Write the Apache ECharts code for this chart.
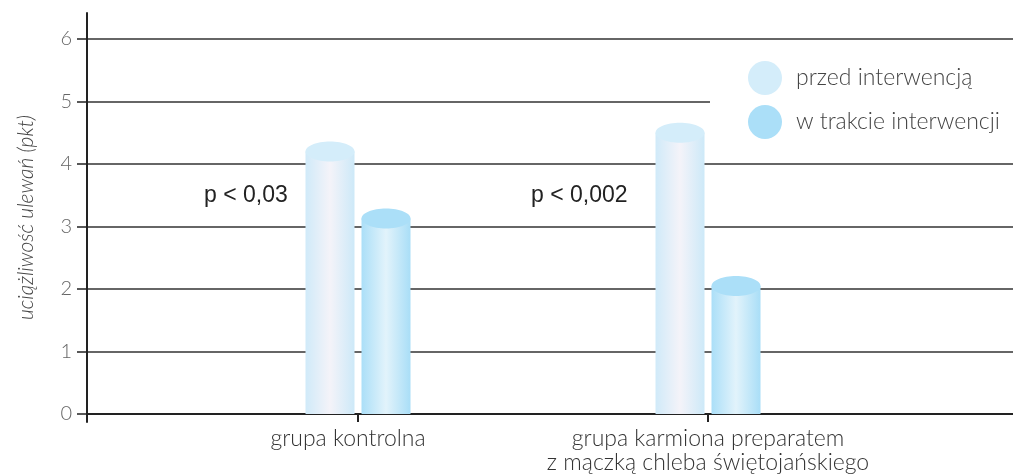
<!DOCTYPE html>
<html><head><meta charset="utf-8">
<script src="https://cdn.jsdelivr.net/npm/echarts@6/dist/echarts.min.js"></script>
<style>html,body{margin:0;padding:0;background:#fff}#c{width:1013px;height:475px}</style>
</head><body><div id="c"></div>
<script>
var categories = ['grupa kontrolna', 'grupa karmiona preparatem\nz mączką chleba świętojańskiego'];
var seriesNames = ['przed interwencją', 'w trakcie interwencji'];
var beforeVals = [4.2, 4.5];
var duringVals = [3.13, 2.05];
var yTicks = [0, 1, 2, 3, 4, 5, 6];
var pLabels = ['p < 0,03', 'p < 0,002'];

var chart = echarts.init(document.getElementById('c'));
var FONT = 'Lato';

function toData(vals){ return vals.map(function(v,i){ return [i+1, v]; }); }

function makeRender(side, stops, topColor){
  return function(params, api){
    var x = api.value(0), y = api.value(1);
    var top = api.coord([x, y]);
    var base = api.coord([x, 0]);
    var w = 49, gap = 3.5;
    var left = side < 0 ? top[0] - gap - w : top[0] + gap;
    return {type:'group', children:[
      {type:'rect', shape:{x:left, y:top[1], width:w, height:base[1]-top[1]},
       style:{fill:new echarts.graphic.LinearGradient(0,0,1,0,stops)}},
      {type:'ellipse', shape:{cx:left+w/2, cy:top[1], rx:w/2, ry:10},
       style:{fill:topColor}}
    ]};
  };
}

chart.setOption({
  animation:false,
  textStyle:{fontFamily:FONT},
  grid:[
    {left:87, right:0, top:39, bottom:60},
    {left:87, right:0, top:13, bottom:53}
  ],
  legend:{
    data:seriesNames, orient:'vertical', left:710, top:50,
    padding:[11,80,11,38], backgroundColor:'#fff',
    icon:'circle', itemWidth:34, itemHeight:34, itemGap:10,
    textStyle:{fontFamily:FONT, fontWeight:300, fontSize:23, color:'#444', padding:[0,0,0,9]}
  },
  xAxis:[
    {type:'value', gridIndex:0, min:0.2257, max:2.8714,
     splitLine:{show:false},
     axisLine:{lineStyle:{color:'#222', width:2}},
     axisTick:{customValues:[1,2], length:8, lineStyle:{color:'#222', width:2}},
     axisLabel:{customValues:[1,2],
       formatter:function(v){var i=Math.round(v)-1; return i===0 ? '{s|'+categories[i]+'}' : categories[i];},
       rich:{s:{fontFamily:FONT, fontWeight:300, fontSize:23, color:'#333', lineHeight:24, padding:[0,20,0,0]}},
       fontFamily:FONT, fontWeight:300, fontSize:23, color:'#333', lineHeight:24, margin:13}
    },
    {type:'value', gridIndex:1, show:false, min:0, max:1}
  ],
  yAxis:[
    {type:'value', gridIndex:0, min:0, max:6, interval:1,
     axisLine:{show:false},
     axisTick:{show:true, length:10, lineStyle:{color:'#222', width:1.5}},
     axisLabel:{fontFamily:FONT, fontWeight:300, fontSize:20, color:'#666', margin:15,
       padding:[4,0,0,0], customValues:yTicks},
     splitLine:{lineStyle:{color:'#333', width:1.5}}
    },
    {type:'value', gridIndex:1, min:0, max:1,
     axisLine:{show:true, lineStyle:{color:'#222', width:2}},
     axisTick:{show:false}, axisLabel:{show:false}, splitLine:{show:false},
     name:'uciążliwość ulewań (pkt)', nameLocation:'middle', nameRotate:90, nameGap:50,
     nameTextStyle:{fontFamily:FONT, fontStyle:'italic', fontWeight:300, fontSize:21, color:'#444'}
    }
  ],
  series:[
    {name:seriesNames[0], type:'custom', xAxisIndex:0, yAxisIndex:0,
     itemStyle:{color:'#d4edfa'}, data:toData(beforeVals),
     renderItem:makeRender(-1, [{offset:0,color:'#d0eaf9'},{offset:0.5,color:'#f4f3f9'},{offset:1,color:'#cde9f8'}], '#d4edfa')},
    {name:seriesNames[1], type:'custom', xAxisIndex:0, yAxisIndex:0,
     itemStyle:{color:'#abdff8'}, data:toData(duringVals),
     renderItem:makeRender(1, [{offset:0,color:'#abdff8'},{offset:0.5,color:'#e2f3fb'},{offset:1,color:'#a9def7'}], '#abdff8')}
  ],
  graphic:[
    {type:'text', left:204, top:184, style:{text:pLabels[0], font:'400 23px "Liberation Sans"', fill:'#222'}},
    {type:'text', left:531, top:184, style:{text:pLabels[1], font:'400 23px "Liberation Sans"', fill:'#222'}}
  ]
});
</script></body></html>
